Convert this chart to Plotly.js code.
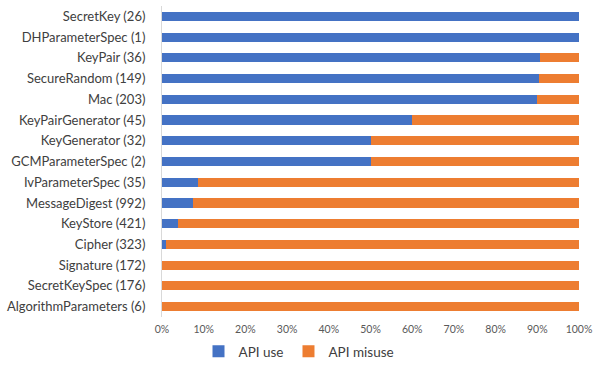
<!DOCTYPE html>
<html>
<head>
<meta charset="utf-8">
<script src="https://cdn.plot.ly/plotly-3.0.1.min.js"></script>
<style>
  html, body { margin:0; padding:0; background:#fff; }
  #chart { width:598px; height:367px; }
</style>
</head>
<body>
<div id="chart"></div>
<script>
const classes = [
  'SecretKey (26)', 'DHParameterSpec (1)', 'KeyPair (36)', 'SecureRandom (149)',
  'Mac (203)', 'KeyPairGenerator (45)', 'KeyGenerator (32)', 'GCMParameterSpec (2)',
  'IvParameterSpec (35)', 'MessageDigest (992)', 'KeyStore (421)', 'Cipher (323)',
  'Signature (172)', 'SecretKeySpec (176)', 'AlgorithmParameters (6)'
];
// share of correct use / misuse, in percent
const apiUse =    [100, 100, 90.6, 90.3, 90.0, 60.0, 50.0, 50.0, 8.6, 7.4, 3.8, 0.9, 0, 0, 0];
const apiMisuse = [0, 0, 9.4, 9.7, 10.0, 40.0, 50.0, 50.0, 91.4, 92.6, 96.2, 99.1, 100, 100, 100];
const xTicks = [0, 10, 20, 30, 40, 50, 60, 70, 80, 90, 100];

const font = 'Lato, "Open Sans", sans-serif';

const traces = [
  {
    type:'bar', orientation:'h', name:'API use',
    x: apiUse, y: classes,
    marker:{color:'#4472c4'},
    hoverinfo:'x+y'
  },
  {
    type:'bar', orientation:'h', name:'API misuse',
    x: apiMisuse, y: classes,
    marker:{color:'#ed7d31'},
    hoverinfo:'x+y'
  }
];

const layout = {
  width:598, height:367,
  margin:{t:6, b:50, l:162, r:19},
  paper_bgcolor:'white',
  plot_bgcolor:'white',
  barmode:'stack',
  bargap:0.56,
  font:{family:font, color:'#404040'},
  xaxis:{
    range:[0, 100],
    tickvals: xTicks,
    ticktext: xTicks.map(v => v + '%'),
    showgrid:false, zeroline:false, showline:false,
    ticklabelstandoff:4,
    tickfont:{size:10.5, color:'#595959'},
    fixedrange:true
  },
  yaxis:{
    autorange:'reversed',
    showgrid:false, zeroline:false,
    showline:true, linecolor:'#d9d9d9', linewidth:1,
    ticks:'', ticklabelstandoff:13,
    tickfont:{size:13, color:'#404040'},
    fixedrange:true
  },
  showlegend:true,
  legend:{
    orientation:'h', xref:'container', x:0.5, xanchor:'center',
    yref:'container', y:0.0, yanchor:'bottom',
    font:{size:13.5, color:'#404040'},
    itemwidth:30, traceorder:'normal'
  }
};

Plotly.newPlot('chart', traces, layout, {displayModeBar:false, staticPlot:true});
</script>
</body>
</html>
